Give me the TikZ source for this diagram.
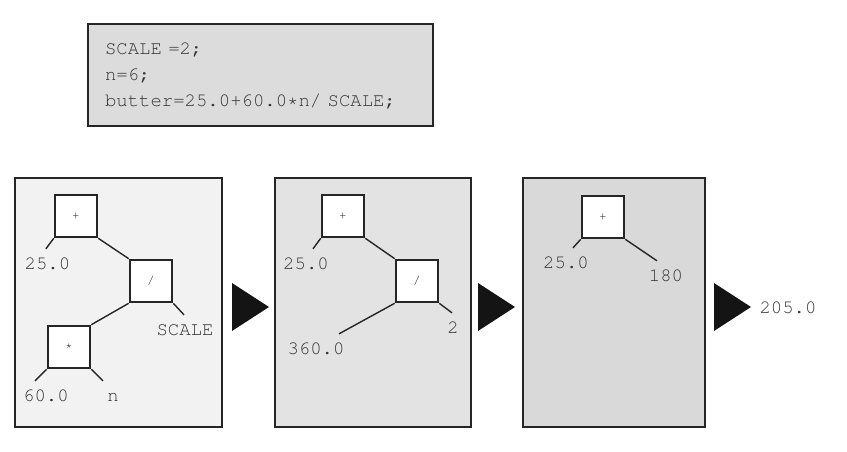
\documentclass[tikz,border=0pt]{standalone}
\usepackage[T1,TU]{fontenc}
\usepackage{tikz}
\usetikzlibrary{arrows.meta,positioning,calc}
\definecolor{ink}{HTML}{262626}
\definecolor{lead}{HTML}{333333}
\definecolor{paper}{HTML}{F2F2F2}
\definecolor{haze}{HTML}{E3E3E3}
\definecolor{fog}{HTML}{D9D9D9}
\definecolor{slab}{HTML}{DCDCDC}
\newcommand{\codefont}{\fontencoding{T1}\fontfamily{pcr}\fontsize{13.5}{18.5}\selectfont}
\newcommand{\opfont}{\fontencoding{T1}\fontfamily{pcr}\fontsize{9}{10}\selectfont}
\tikzset{
  panel/.style={draw=ink,line width=1.4pt,fill=#1,minimum height=6.225cm,inner sep=0pt},
  opbox/.style={draw=ink,line width=1.8pt,fill=white,minimum size=1.05cm,inner sep=0pt,font=\opfont,text=ink},
  leaf/.style={font=\codefont,text=lead,inner xsep=0pt,inner ysep=5.2pt,text height=9.5pt,text depth=2.7pt},
  wire/.style={draw=ink,line width=1pt},
}

\begin{document}
\begin{tikzpicture}[x=1cm,y=1cm]
  \useasboundingbox (0,0) rectangle (21.175,11.275);
  \node[draw=ink,line width=1.4pt,fill=slab,font=\codefont,text=lead,align=left,text width=7.775cm,inner xsep=0.425cm,minimum height=2.55cm] (src) at (6.5125,9.4) {SCALE =2;\\ n=6;\\ butter=25.0+60.0*n/ SCALE;};
  \node[panel=paper,minimum width=5.175cm] (p1) at (2.9625,3.7125) {};
  \node[panel=haze,minimum width=4.9cm] (p2) at (9.325,3.7125) {};
  \node[panel=fog,minimum width=4.55cm] (p3) at (15.35,3.7125) {};
  \node[opbox] (add1) at (1.9,5.875) {+};
  \node[opbox] (div1) at (3.775,4.25) {/};
  \node[opbox] (mul1) at (1.725,2.6) {*};
  \node[opbox] (add2) at (8.575,5.875) {+};
  \node[opbox] (div2) at (10.425,4.25) {/};
  \node[opbox] (add3) at (15.075,5.85) {+};
  \node[leaf] (a1) at (1.1875,4.65) {25.0};
  \node[leaf] (sc) at (4.625,3.0) {SCALE};
  \node[leaf] (k60) at (1.15,1.35) {60.0};
  \node[leaf] (vn) at (2.825,1.35) {n};
  \node[leaf] (a2) at (7.65,4.65) {25.0};
  \node[leaf] (k360) at (7.9,2.525) {360.0};
  \node[leaf] (k2) at (11.325,3.05) {2};
  \node[leaf] (a3) at (14.15,4.675) {25.0};
  \node[leaf] (k180) at (16.65,4.35) {180};
  \node[leaf] (res) at (19.7,3.55) {205.0};
  \foreach \a/\b in {add1.south east/div1.north west,div1.south west/mul1.north east,add2.south east/div2.north west}
    \draw[wire] (\a) -- (\b);
  \draw[wire] (add1.south west) -- ([xshift=-0.04cm]a1.north);
  \draw[wire] (div1.south east) -- ([xshift=-0.025cm]sc.north);
  \draw[wire] (mul1.south west) -- ([xshift=-0.275cm]k60.north);
  \draw[wire] (mul1.south east) -- ([xshift=-0.25cm]vn.north);
  \draw[wire] (add2.south west) -- ([xshift=0.175cm]a2.north);
  \draw[wire] (div2.south west) -- ([xshift=0.575cm]k360.north);
  \draw[wire] (div2.south east) -- ([xshift=-0.025cm]k2.north);
  \draw[wire] (add3.south west) -- ([xshift=0.175cm]a3.north);
  \draw[wire] (add3.south east) -- ([xshift=-0.225cm]k180.north);
  \foreach \x in {5.8,11.95,17.85}
    \fill[black!92] (\x,4.2) -- ++(0.925,-0.6) -- ++(-0.925,-0.6) -- cycle;
\end{tikzpicture}
\end{document}
